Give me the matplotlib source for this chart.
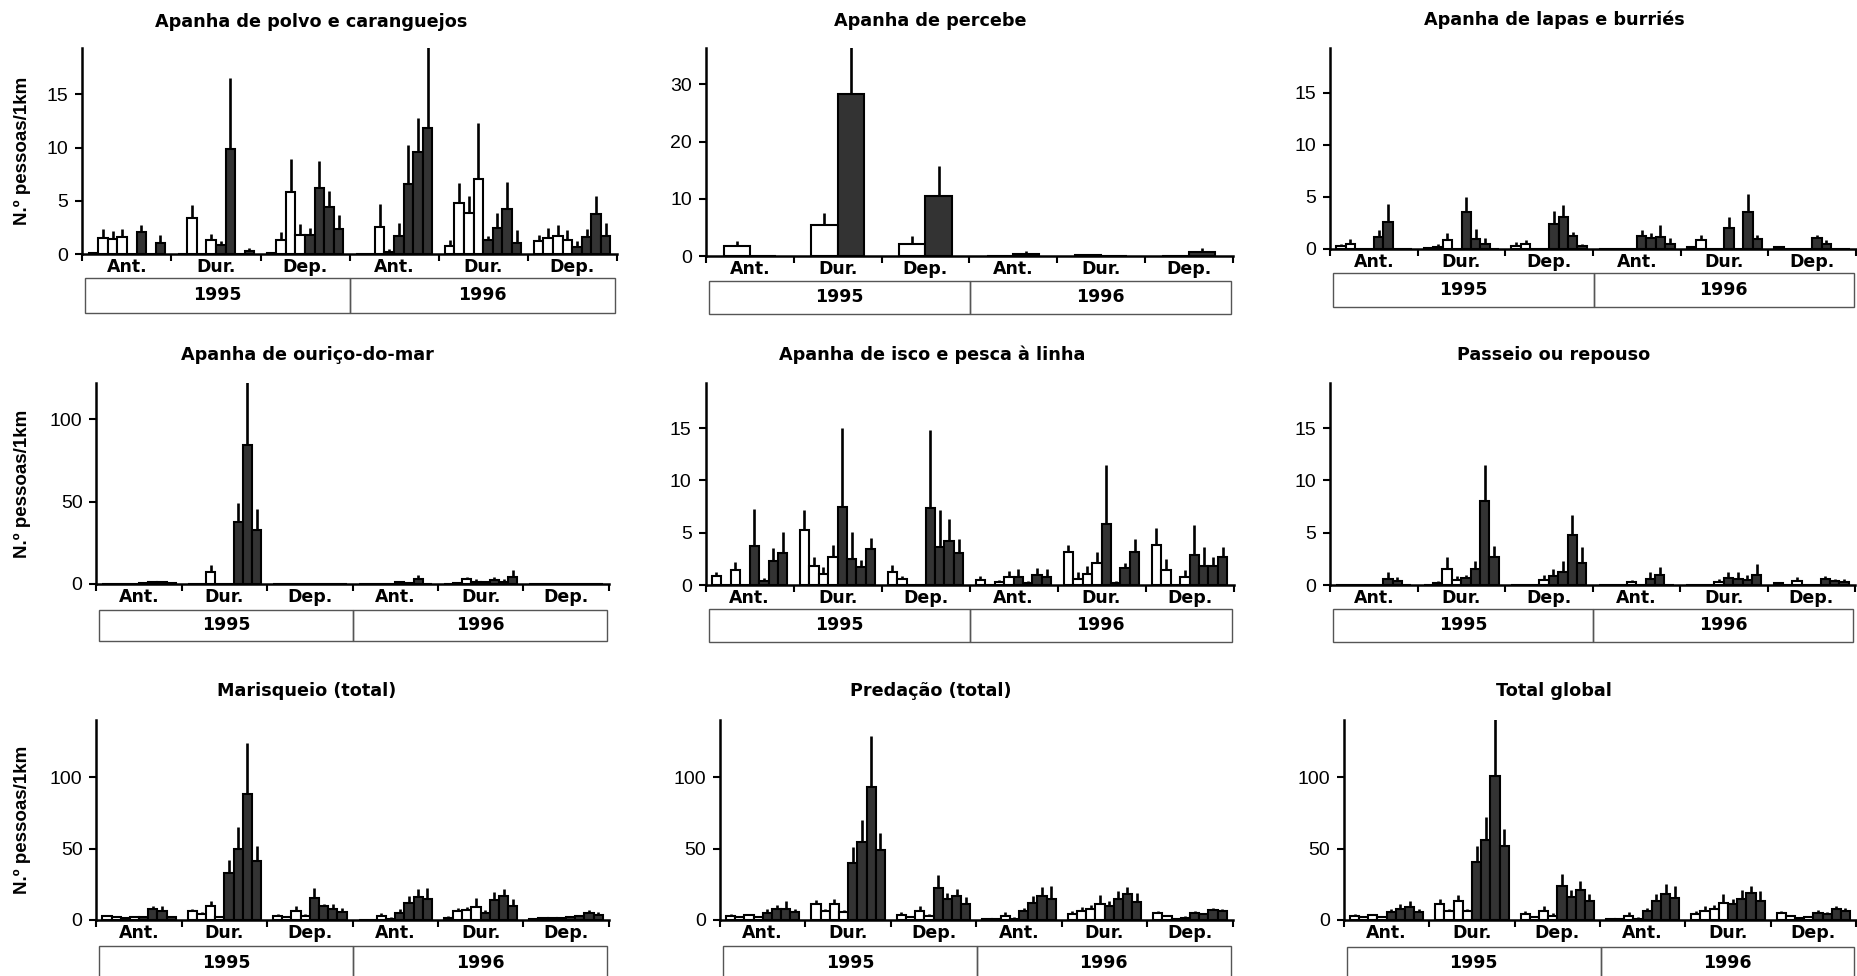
import matplotlib
matplotlib.use('Agg')
import matplotlib.pyplot as plt
from matplotlib.patches import Rectangle
import numpy as np

W, H = 1857, 976
plt.rcParams['font.family'] = ['Liberation Sans', 'DejaVu Sans']
WIDE = ['DejaVu Sans', 'Liberation Sans']

# ---------------- data ----------------
periods = ['Ant.', 'Dur.', 'Dep.', 'Ant.', 'Dur.', 'Dep.']
years = ['1995', '1996']
ylabel = 'N.º pessoas/1km'

titles = ['Apanha de polvo e caranguejos', 'Apanha de percebe', 'Apanha de lapas e burriés',
          'Apanha de ouriço-do-mar', 'Apanha de isco e pesca à linha', 'Passeio ou repouso',
          'Marisqueio (total)', 'Predação (total)', 'Total global']

# rows = 6 period groups; columns = bars (first half white, second half dark)
polvo_mean = [[0.1, 1.5, 1.4, 1.6, 0.0, 2.1, 0.0, 1.1],
              [0.0, 3.4, 0.0, 1.3, 0.9, 9.9, 0.0, 0.3],
              [0.1, 1.3, 5.8, 1.8, 1.8, 6.2, 4.4, 2.4],
              [0.0, 0.0, 2.6, 0.2, 1.7, 6.6, 9.6, 11.8],
              [0.8, 4.8, 3.9, 7.1, 1.3, 2.5, 4.2, 1.1],
              [1.2, 1.5, 1.7, 1.3, 0.7, 1.6, 3.8, 1.7]]
polvo_upper = [[0.2, 2.4, 2.2, 2.4, 0.0, 2.7, 0.0, 1.8],
               [0.0, 4.6, 0.0, 1.9, 1.2, 16.5, 0.0, 0.6],
               [0.2, 2.1, 8.9, 2.8, 2.5, 8.7, 5.9, 3.7],
               [0.0, 0.0, 4.7, 0.5, 2.9, 10.2, 12.8, 21.0],
               [1.3, 6.7, 5.5, 12.3, 1.7, 3.9, 6.8, 2.3],
               [1.8, 2.5, 2.7, 2.3, 1.2, 2.4, 5.5, 2.9]]

percebe_mean = [[1.8, 0.0], [5.5, 28.3], [2.1, 10.4], [0.0, 0.4], [0.15, 0.0], [0.0, 0.7]]
percebe_upper = [[2.7, 0.0], [7.6, 38.0], [3.5, 15.7], [0.0, 0.9], [0.25, 0.0], [0.0, 1.4]]

lapas_mean = [[0.3, 0.5, 0.0, 0.0, 1.1, 2.6, 0.0, 0.0],
              [0.1, 0.2, 0.8, 0.0, 3.5, 0.9, 0.5, 0.0],
              [0.3, 0.5, 0.0, 0.0, 2.4, 3.1, 1.2, 0.3],
              [0.0, 0.0, 0.0, 0.0, 1.2, 1.0, 1.1, 0.5],
              [0.15, 0.8, 0.0, 0.0, 2.0, 0.0, 3.5, 0.9],
              [0.2, 0.0, 0.0, 0.0, 1.0, 0.5, 0.0, 0.0]]
lapas_upper = [[0.5, 0.9, 0.0, 0.0, 1.8, 4.35, 0.0, 0.0],
               [0.2, 0.45, 1.5, 0.0, 5.0, 1.9, 1.0, 0.0],
               [0.6, 0.8, 0.0, 0.0, 3.6, 4.2, 1.6, 0.5],
               [0.0, 0.0, 0.0, 0.0, 1.8, 1.5, 2.3, 1.0],
               [0.25, 1.3, 0.0, 0.0, 3.1, 0.0, 5.3, 1.3],
               [0.3, 0.0, 0.0, 0.0, 1.3, 0.8, 0.0, 0.0]]

ourico_mean = [[0.0, 0.0, 0.0, 0.3, 0.5, 1.0, 1.0, 0.8],
               [0.3, 0.3, 7.5, 0.0, 0.0, 37.5, 84.5, 33.0],
               [0.0, 0.0, 0.0, 0.0, 0.0, 0.0, 0.0, 0.0],
               [0.0, 0.0, 0.3, 0.3, 1.0, 0.5, 3.0, 0.0],
               [0.3, 0.5, 3.0, 1.5, 1.0, 2.5, 1.5, 4.5],
               [0.0, 0.0, 0.0, 0.0, 0.0, 0.0, 0.0, 0.0]]
ourico_upper = [[0.0, 0.0, 0.0, 0.5, 0.8, 1.5, 1.6, 1.2],
                [0.5, 0.5, 11.5, 0.0, 0.0, 49.5, 125.0, 45.5],
                [0.0, 0.0, 0.0, 0.0, 0.0, 0.0, 0.0, 0.0],
                [0.0, 0.0, 0.5, 0.6, 1.5, 1.0, 5.5, 0.0],
                [0.6, 0.8, 4.5, 3.0, 1.5, 4.0, 3.0, 8.5],
                [0.0, 0.0, 0.0, 0.0, 0.0, 0.0, 0.0, 0.0]]

isco_mean = [[0.9, 0.0, 1.4, 0.0, 3.7, 0.4, 2.3, 3.1],
             [5.3, 1.8, 1.1, 2.7, 7.5, 2.5, 1.7, 3.4],
             [1.2, 0.6, 0.0, 0.0, 7.4, 3.6, 4.2, 3.1],
             [0.5, 0.0, 0.3, 0.8, 0.8, 0.2, 1.0, 0.8],
             [3.2, 0.6, 1.1, 2.1, 5.8, 0.2, 1.6, 3.2],
             [3.8, 1.4, 0.0, 0.8, 2.9, 1.8, 1.8, 2.7]]
isco_upper = [[1.2, 0.0, 2.2, 0.0, 7.3, 0.7, 3.5, 5.1],
              [7.2, 2.7, 1.7, 3.8, 15.0, 5.1, 2.4, 4.5],
              [1.9, 0.9, 0.0, 0.0, 14.8, 7.2, 6.3, 4.4],
              [0.9, 0.0, 0.5, 1.3, 1.5, 0.4, 1.6, 1.5],
              [3.8, 1.2, 1.8, 3.2, 11.5, 0.4, 2.1, 4.4],
              [5.5, 2.5, 0.0, 1.4, 5.7, 3.6, 2.7, 3.6]]

passeio_mean = [[0.0, 0.0, 0.0, 0.0, 0.0, 0.6, 0.4, 0.0],
                [0.0, 0.2, 1.5, 0.5, 0.7, 1.5, 8.0, 2.7],
                [0.0, 0.0, 0.0, 0.5, 0.9, 1.2, 4.8, 2.1],
                [0.0, 0.0, 0.0, 0.3, 0.0, 0.6, 1.0, 0.0],
                [0.0, 0.0, 0.0, 0.3, 0.7, 0.6, 0.5, 1.0],
                [0.15, 0.0, 0.4, 0.0, 0.0, 0.6, 0.4, 0.3]]
passeio_upper = [[0.0, 0.0, 0.0, 0.0, 0.0, 1.2, 0.8, 0.0],
                 [0.0, 0.4, 2.7, 0.9, 1.0, 2.3, 11.5, 3.7],
                 [0.0, 0.0, 0.0, 1.0, 1.5, 2.3, 6.7, 3.6],
                 [0.0, 0.0, 0.0, 0.5, 0.0, 1.2, 1.7, 0.0],
                 [0.0, 0.0, 0.0, 0.6, 1.2, 1.2, 1.0, 2.0],
                 [0.25, 0.0, 0.8, 0.0, 0.0, 0.9, 0.6, 0.6]]

marisqueio_mean = [[2.5, 2.0, 1.5, 2.0, 2.0, 7.5, 6.5, 2.0],
                   [6.0, 4.0, 10.0, 2.0, 33.0, 49.5, 88.0, 41.5],
                   [3.0, 2.0, 6.0, 3.0, 15.5, 9.5, 8.0, 5.5],
                   [0.0, 0.0, 3.0, 1.0, 5.0, 12.0, 16.0, 14.5],
                   [1.5, 6.0, 7.0, 9.0, 5.0, 14.0, 16.5, 9.5],
                   [1.0, 1.5, 1.5, 1.5, 2.0, 2.5, 5.0, 3.5]]
marisqueio_upper = [[3.0, 2.5, 2.0, 2.5, 2.5, 10.0, 10.0, 2.5],
                    [7.5, 5.5, 13.0, 3.0, 42.0, 65.0, 124.0, 52.0],
                    [4.0, 3.0, 9.5, 4.0, 22.5, 11.5, 11.5, 8.5],
                    [0.0, 0.0, 5.0, 2.0, 7.5, 16.5, 21.5, 22.5],
                    [2.5, 8.5, 9.0, 15.5, 7.0, 19.5, 21.5, 15.0],
                    [1.5, 2.0, 2.0, 2.0, 2.5, 3.0, 7.0, 5.5]]

predacao_mean = [[3.0, 2.0, 3.5, 2.0, 5.0, 7.5, 8.0, 5.5],
                 [11.0, 6.0, 11.5, 5.5, 40.0, 54.5, 93.0, 49.0],
                 [3.5, 2.0, 6.0, 2.5, 22.5, 15.0, 16.5, 11.0],
                 [0.5, 0.5, 3.0, 1.0, 6.0, 12.0, 16.5, 15.0],
                 [4.5, 6.5, 8.0, 11.0, 10.0, 14.5, 18.0, 12.5],
                 [5.0, 2.5, 1.0, 1.5, 5.0, 4.5, 7.0, 6.0]]
predacao_upper = [[4.0, 3.0, 4.0, 2.5, 7.5, 10.5, 13.0, 8.0],
                  [14.0, 8.0, 15.0, 7.0, 51.0, 70.0, 129.0, 61.0],
                  [5.5, 3.0, 9.5, 4.0, 31.5, 19.0, 21.5, 16.0],
                  [0.7, 0.7, 5.5, 2.0, 8.5, 17.0, 23.0, 24.0],
                  [6.0, 9.0, 10.5, 17.5, 13.5, 20.0, 23.0, 19.0],
                  [6.0, 3.5, 1.5, 2.5, 6.5, 5.0, 8.5, 8.0]]

total_mean = [[3.0, 2.0, 3.5, 2.0, 5.5, 8.0, 9.0, 5.5],
              [11.0, 6.0, 13.0, 6.0, 41.0, 56.0, 101.0, 52.0],
              [4.0, 2.0, 6.5, 3.0, 24.0, 16.0, 21.0, 13.0],
              [0.5, 0.5, 3.0, 1.0, 6.0, 13.0, 18.0, 15.5],
              [4.5, 6.5, 8.0, 12.0, 11.5, 15.0, 19.0, 13.5],
              [5.0, 2.5, 1.5, 2.0, 5.0, 4.5, 7.5, 6.5]]
total_upper = [[4.5, 3.0, 4.5, 2.5, 7.5, 11.0, 13.5, 8.0],
               [14.5, 7.5, 17.5, 8.0, 52.0, 72.0, 145.0, 64.0],
               [6.0, 3.0, 9.5, 5.0, 32.0, 21.0, 27.5, 18.0],
               [1.0, 1.0, 5.5, 2.0, 8.5, 18.0, 25.0, 24.0],
               [6.0, 9.5, 10.5, 18.0, 14.5, 21.0, 23.5, 20.0],
               [6.5, 3.5, 2.0, 2.5, 7.0, 5.5, 9.5, 8.5]]

y_max = [19.3, 36.4, 19.3, 121.9, 19.3, 19.3, 140.2, 140.2, 140.2]
y_ticks = [[0, 5, 10, 15], [0, 10, 20, 30], [0, 5, 10, 15],
           [0, 50, 100], [0, 5, 10, 15], [0, 5, 10, 15],
           [0, 50, 100], [0, 50, 100], [0, 50, 100]]

means = [polvo_mean, percebe_mean, lapas_mean, ourico_mean, isco_mean, passeio_mean,
         marisqueio_mean, predacao_mean, total_mean]
uppers = [polvo_upper, percebe_upper, lapas_upper, ourico_upper, isco_upper, passeio_upper,
          marisqueio_upper, predacao_upper, total_upper]

# ---------------- layout (pixels) ----------------
# (x_left, x_right, y_top, y_zero)
boxes = [(82.4, 616.7, 48.3, 254.3), (706.0, 1232.5, 47.7, 256.0), (1330.0, 1856.0, 48.3, 248.7),
         (96.4, 608.7, 383.3, 584.0), (705.6, 1233.5, 383.3, 585.0), (1330.0, 1855.0, 383.3, 585.0),
         (96.4, 608.7, 720.0, 920.0), (720.0, 1232.7, 720.0, 920.0), (1344.0, 1856.0, 720.0, 920.0)]
title_pos = [(311, 21.7), (930, 20.7), (1554, 19.3),
             (307, 355), (932, 355), (1554, 355),
             (307, 690.7), (931, 690.7), (1554, 690.7)]
tables = [(278, 313), (281, 314), (273, 307),
          (610, 641), (609, 642), (609, 642),
          (946, 980), (946, 980), (946.7, 980)]

DARK = '#333333'

fig = plt.figure(figsize=(W / 100, H / 100), dpi=100)

for k in range(9):
    x0, x1, top, zero = boxes[k]
    ax = fig.add_axes([x0 / W, 1 - zero / H, (x1 - x0) / W, (zero - top) / H])
    mean = np.array(means[k], dtype=float)
    upper = np.array(uppers[k], dtype=float)
    ng, nb = mean.shape
    bw = 1 / 9.3 if nb == 8 else 0.3
    for i in range(nb):
        xs = np.arange(ng) + 0.5 + (i - (nb - 1) / 2) * bw
        col = 'white' if i < nb // 2 else DARK
        ax.bar(xs, mean[:, i], width=bw, color=col, edgecolor='black',
               linewidth=1.5, zorder=2)
        m = upper[:, i] > mean[:, i]
        ax.vlines(xs[m], mean[m, i], upper[m, i], colors='black',
                  linewidth=1.9, zorder=3)
    ax.set_xlim(0, ng)
    ax.set_ylim(0, y_max[k])
    for s in ['top', 'right']:
        ax.spines[s].set_visible(False)
    for s in ['left', 'bottom']:
        ax.spines[s].set_linewidth(1.8)
        ax.spines[s].set_zorder(4)
    ax.set_yticks(y_ticks[k])
    ax.set_yticklabels([str(t) for t in y_ticks[k]], fontsize=14)
    ax.tick_params(axis='y', direction='out', length=5, width=1.5, pad=5)
    ax.set_xticks(np.arange(ng + 1))
    ax.set_xticklabels([''] * (ng + 1))
    ax.set_xticks(np.arange(ng) + 0.5, minor=True)
    ax.set_xticklabels(periods, minor=True, fontsize=12.5, fontweight='bold',
                       family=WIDE)
    ax.tick_params(axis='x', which='major', direction='out', length=5, width=1.5)
    ax.tick_params(axis='x', which='minor', length=0, pad=3)

    # title
    tx, ty = title_pos[k]
    fig.text(tx / W, 1 - ty / H, titles[k], ha='center', va='center',
             fontsize=12.7, fontweight='bold', family=WIDE)

    # year table below axis
    tt, tb = tables[k]
    tax = fig.add_axes([(x0 + 3) / W, 1 - tb / H, (x1 - x0 - 5) / W, (tb - tt) / H])
    tax.set_axis_off()
    for j, yr in enumerate(years):
        tax.add_patch(Rectangle((j * 0.5, 0), 0.5, 1, transform=tax.transAxes,
                                facecolor='none', edgecolor='#555555', linewidth=1.0,
                                clip_on=False))
        tax.text(j * 0.5 + 0.25, 0.5, yr, transform=tax.transAxes, ha='center',
                 va='center', fontsize=12.5, fontweight='bold', family=WIDE)

    if k % 3 == 0:
        fig.text(22 / W, 1 - (top + zero) / 2 / H, ylabel, rotation=90,
                 ha='center', va='center', fontsize=13.5, fontweight='bold')

fig.savefig('out.png', dpi=100)
